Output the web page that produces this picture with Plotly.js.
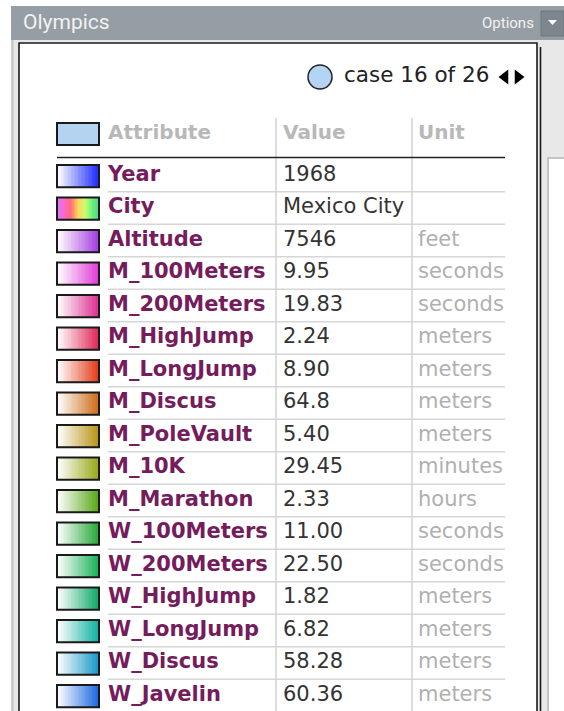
<!DOCTYPE html>
<html>
<head>
<meta charset="utf-8">
<script src="https://cdn.plot.ly/plotly-3.0.1.min.js"></script>
<style>html,body{margin:0;padding:0;background:#fff;}#chart{width:564px;height:711px;}</style>
</head>
<body>
<div id="chart"></div>
<script>
// ---- data ----
var attributes = ['Year','City','Altitude','M_100Meters','M_200Meters','M_HighJump','M_LongJump','M_Discus','M_PoleVault','M_10K','M_Marathon','W_100Meters','W_200Meters','W_HighJump','W_LongJump','W_Discus','W_Javelin'];
var values = ['1968','Mexico City','7546','9.95','19.83','2.24','8.90','64.8','5.40','29.45','2.33','11.00','22.50','1.82','6.82','58.28','60.36'];
var units = ['','','feet','seconds','seconds','meters','meters','meters','meters','minutes','hours','seconds','seconds','meters','meters','meters','meters'];
var swatchColors = ['#1f2cff','rainbow','#a43ee0','#e03cd8','#dc3090','#e02858','#e43a18','#cc6c18','#b89418','#98a818','#58a818','#28a838','#18b058','#10a868','#10b0a0','#1898c8','#1c68e0'];
var headers = ['Attribute','Value','Unit'];
var datasetName = 'Olympics';
var caseIndex = 16, caseCount = 26;

// ---- layout constants (pixels) ----
var W = 564, H = 711;
var rowTop = 175.5, rowH = 32.5;        // centre of first row and row pitch
function rowY(px){ return (px - rowTop) / rowH; }
function paperY(px){ return 1 - px / H; }
var colAttrX = 108, colValX = 283, colUnitX = 418;
var sepX1 = 276, sepX2 = 412, tableRight = 505;
var swX0 = 57, swX1 = 99, swOff = 0.02, swHalf = 0.34;

var traces = [];
var shapes = [];

function swatch(row, scale){
  var n = 30, xs = [], z = [];
  for (var k = 0; k <= n; k++) xs.push(swX0 + (swX1 - swX0) * k / n);
  for (var k = 0; k < n; k++) z.push(k / (n - 1));
  traces.push({type:'heatmap', x: xs, y:[row + swOff - swHalf, row + swOff + swHalf], z:[z],
    colorscale: scale, zmin:0, zmax:1, showscale:false, hoverinfo:'skip'});
  shapes.push({type:'rect', xref:'x', yref:'y', x0:swX0, x1:swX1, y0:row + swOff - swHalf, y1:row + swOff + swHalf,
    line:{color:'#1a1a1a', width:2}, layer:'above'});
}

var rainbow = [[0,'#d27cff'],[0.15,'#ff66cc'],[0.32,'#ff6a78'],[0.5,'#ffd65c'],[0.68,'#c8ff70'],[0.84,'#70f27c'],[1,'#4cd88c']];
var headerRow = rowY(134);
swatch(headerRow - swOff, [[0,'#b3d3f1'],[1,'#b3d3f1']]);
attributes.forEach(function(a, i){
  var c = swatchColors[i];
  swatch(i, c === 'rainbow' ? rainbow : [[0,'#ffffff'],[1,c]]);
});

var rows = attributes.map(function(_, i){ return i; });

// attribute names
traces.push({type:'scatter', mode:'text', x: rows.map(function(){return colAttrX;}), y: rows, text: attributes,
  textposition:'middle right', textfont:{family:'DejaVu Sans', size:21, weight:'bold', color:'#751c5c'}, hoverinfo:'skip', cliponaxis:false});
// values
traces.push({type:'scatter', mode:'text', x: rows.map(function(){return colValX;}), y: rows, text: values,
  textposition:'middle right', textfont:{family:'DejaVu Sans', size:21, color:'#333333'}, hoverinfo:'skip', cliponaxis:false});
// units
traces.push({type:'scatter', mode:'text', x: rows.map(function(){return colUnitX;}), y: rows, text: units,
  textposition:'middle right', textfont:{family:'DejaVu Sans', size:21, color:'#b0b0b0'}, hoverinfo:'skip', cliponaxis:false});
// headers
traces.push({type:'scatter', mode:'text', x:[colAttrX, colValX, colUnitX], y:[headerRow, headerRow, headerRow], text: headers,
  textposition:'middle right', textfont:{family:'DejaVu Sans', size:20, weight:'bold', color:'#b8b8b8'}, hoverinfo:'skip', cliponaxis:false});

// case indicator
var caseY = rowY(77);
traces.push({type:'scatter', mode:'markers', x:[320], y:[caseY], marker:{size:24, color:'#b4d4f4', line:{color:'#222', width:1.5}}, hoverinfo:'skip'});
traces.push({type:'scatter', mode:'text', x:[344], y:[caseY], text:['case ' + caseIndex + ' of ' + caseCount],
  textposition:'middle right', textfont:{family:'DejaVu Sans', size:21.5, color:'#222'}, hoverinfo:'skip', cliponaxis:false});
traces.push({type:'scatter', mode:'markers', x:[505, 518], y:[caseY, caseY], marker:{symbol:['triangle-left','triangle-right'], size:13, color:'#000'}, hoverinfo:'skip'});

// table lines
for (var i = 0; i < attributes.length - 1; i++) {
  shapes.push({type:'line', xref:'x', yref:'y', x0:colAttrX, x1:tableRight, y0:i + 0.5, y1:i + 0.5, line:{color:'#d6d6d6', width:1.5}, layer:'below'});
}
shapes.push({type:'line', xref:'x', yref:'y', x0:swX0, x1:tableRight, y0:rowY(157.5), y1:rowY(157.5), line:{color:'#222', width:1.6}});
[sepX1, sepX2].forEach(function(x){
  shapes.push({type:'line', xref:'x', yref:'y', x0:x, x1:x, y0:rowY(118), y1:rowY(711), line:{color:'#d2d2d2', width:1.5}, layer:'below'});
});

// window chrome (paper coords)
var chrome = [
  {type:'rect', xref:'x', yref:'paper', x0:11, x1:564, y0:paperY(40), y1:paperY(711), fillcolor:'#e8e8e8', line:{width:0}, layer:'below'},
  {type:'rect', xref:'x', yref:'paper', x0:11, x1:564, y0:paperY(6), y1:paperY(40), fillcolor:'#969ea5', line:{width:0}, layer:'below'},
  {type:'line', xref:'x', yref:'paper', x0:12.5, x1:12.5, y0:paperY(40), y1:paperY(711), line:{color:'#c4c4c4', width:2}, layer:'below'},
  {type:'rect', xref:'x', yref:'paper', x0:19, x1:537, y0:paperY(43), y1:paperY(716), fillcolor:'#ffffff', line:{color:'#1a1a1a', width:1.6}, layer:'below'},
  {type:'line', xref:'x', yref:'paper', x0:540.5, x1:540.5, y0:paperY(47), y1:paperY(711), line:{color:'#1a1a1a', width:1.6}, layer:'below'},
  {type:'rect', xref:'x', yref:'paper', x0:548, x1:570, y0:paperY(158), y1:paperY(716), fillcolor:'#ffffff', line:{color:'#c4c4c4', width:2}, layer:'below'},
  {type:'rect', xref:'x', yref:'paper', x0:541, x1:564, y0:paperY(11), y1:paperY(36), fillcolor:'#7e868d', line:{color:'#6e767d', width:1}, layer:'below'},
  {type:'path', xref:'x', yref:'paper', path:'M 548,' + paperY(20) + ' L 557,' + paperY(20) + ' L 552.5,' + paperY(25) + ' Z', fillcolor:'#ffffff', line:{width:0}}
];
shapes = chrome.concat(shapes);

var annotations = [
  {xref:'x', yref:'paper', x:21, y:paperY(22), text:datasetName, showarrow:false, xanchor:'left', yanchor:'middle',
   font:{family:'Roboto', size:21, color:'#f2f2f2'}},
  {xref:'x', yref:'paper', x:536, y:paperY(23), text:'Options', showarrow:false, xanchor:'right', yanchor:'middle',
   font:{family:'Roboto', size:15, color:'#f2f2f2'}}
];

var layout = {
  width: W, height: H, margin:{l:0, r:0, t:0, b:0}, showlegend:false,
  paper_bgcolor:'#ffffff', plot_bgcolor:'rgba(0,0,0,0)',
  xaxis:{range:[0, W], visible:false, fixedrange:true},
  yaxis:{range:[rowY(H), rowY(0)], visible:false, fixedrange:true},
  shapes: shapes, annotations: annotations
};
Plotly.newPlot('chart', traces, layout, {staticPlot:true, displayModeBar:false});
</script>
</body>
</html>
